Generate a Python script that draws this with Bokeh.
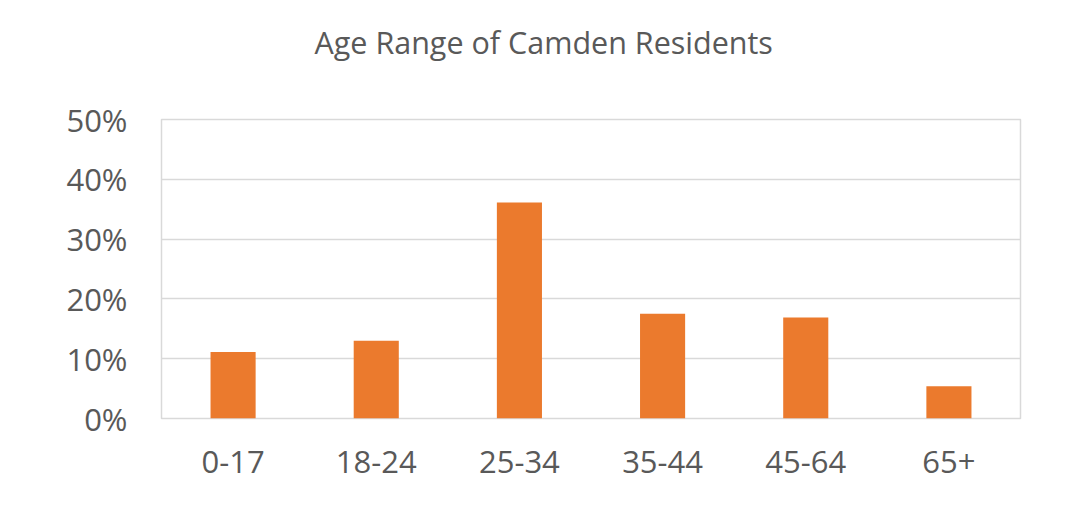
from bokeh.plotting import figure
from bokeh.models import FixedTicker, Title
from bokeh.embed import file_html
from bokeh.resources import INLINE

categories = ["0-17", "18-24", "25-34", "35-44", "45-64", "65+"]
shares = [0.111, 0.130, 0.361, 0.175, 0.169, 0.054]
y_ticks = [0.0, 0.1, 0.2, 0.3, 0.4, 0.5]
y_labels = ["0%", "10%", "20%", "30%", "40%", "50%"]
title_text = "Age Range of Camden Residents"

FONT = "Open Sans"
TXT = "#595959"
GRID = "#D9D9D9"
BAR = "#EB7A2D"

p = figure(x_range=categories, y_range=(0, 0.5), width=1070, height=508,
           output_backend="svg", toolbar_location=None,
           min_border_left=161, min_border_right=50,
           min_border_top=119, min_border_bottom=90)

p.vbar(x=categories, top=shares, width=0.315, color=BAR, line_color=None)

# spacer panel between the frame and the title
spacer = Title(text=" ", text_font=FONT, text_font_size="30px", standoff=14)
p.add_layout(spacer, "above")
t = Title(text=title_text, align="left", text_font=FONT, text_font_size="30.5px",
          text_color=TXT, text_font_style="normal", offset=153, standoff=0)
p.add_layout(t, "above")

p.outline_line_color = GRID
p.outline_line_width = 1.5
p.xgrid.grid_line_color = None
p.ygrid.grid_line_color = GRID
p.ygrid.grid_line_width = 1.5
p.yaxis.ticker = FixedTicker(ticks=y_ticks)
p.yaxis.major_label_overrides = {tk: lb for tk, lb in zip(y_ticks, y_labels)}

for ax in (p.xaxis[0], p.yaxis[0]):
    ax.major_tick_line_color = None
    ax.minor_tick_line_color = None
    ax.major_label_text_font = FONT
    ax.major_label_text_font_size = "31px"
    ax.major_label_text_color = TXT
    ax.axis_line_color = None
p.yaxis.major_label_standoff = 28
p.xaxis.major_label_standoff = 26
p.x_range.range_padding = 0.0

open("out.html", "w").write(file_html(p, INLINE))
